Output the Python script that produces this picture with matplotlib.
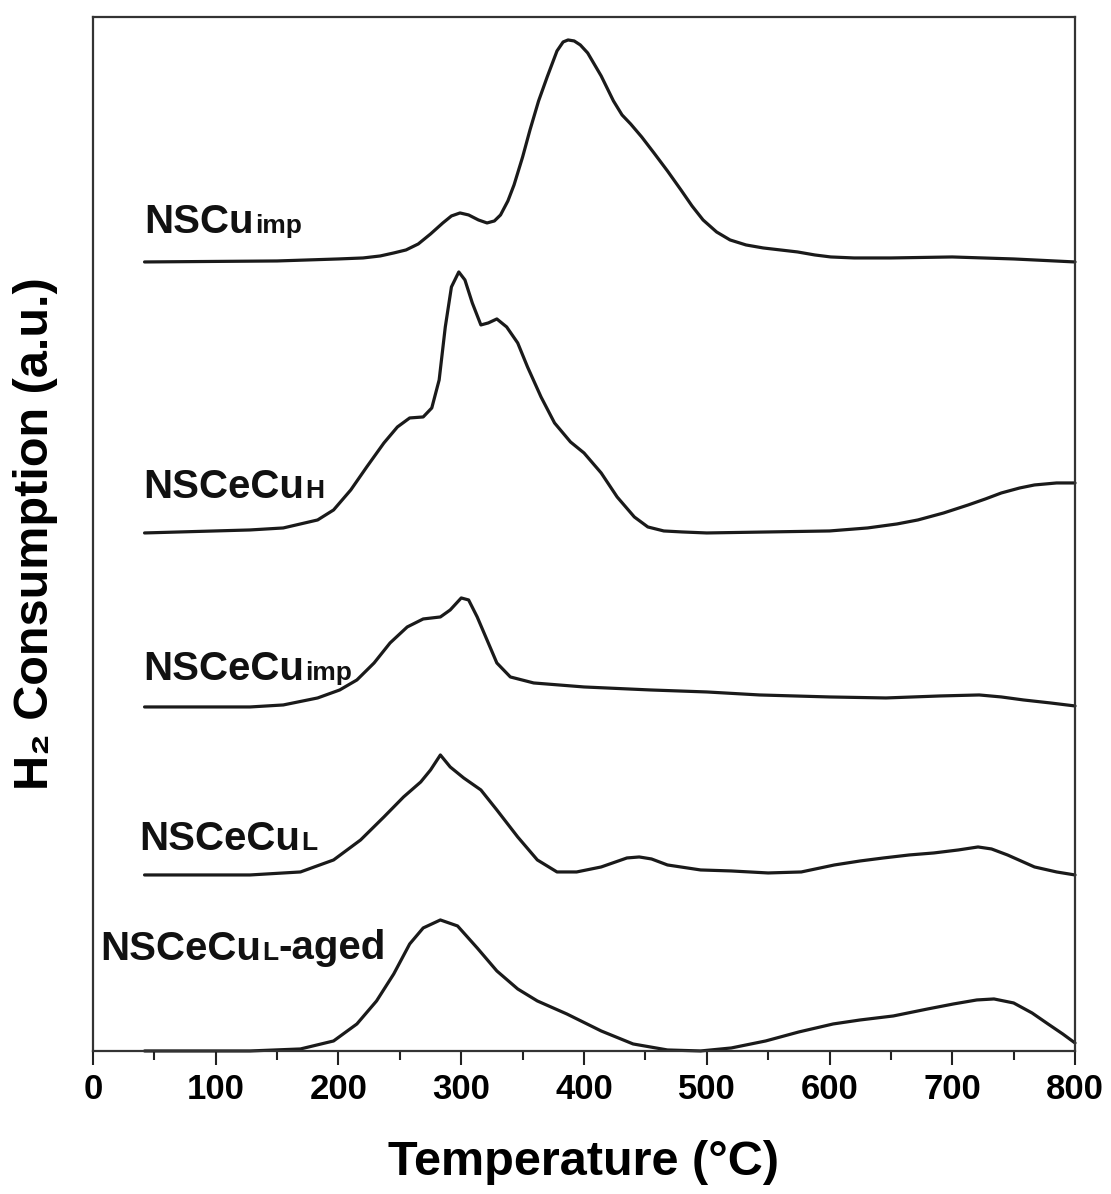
import matplotlib
matplotlib.use('Agg')
import matplotlib.pyplot as plt
from matplotlib.ticker import MultipleLocator

plt.rcParams['font.family'] = ['Liberation Sans', 'DejaVu Sans']
plt.rcParams['font.weight'] = 'bold'

# H2-TPR profiles, temperature (C) vs. signal above each trace's own baseline (a.u.)
names = ['NSCu', 'NSCeCu', 'NSCeCu', 'NSCeCu', 'NSCeCu']
subs = ['imp', 'H', 'imp', 'L', 'L']
suffix = ['', '', '', '', '-aged']
offsets = [790, 518, 344, 176, 0]

t_cu_imp = [42, 150, 200, 220, 234, 245, 255, 265, 275, 285, 292, 299, 306, 314, 321,
            327, 332, 338, 343, 350, 356, 363, 370, 378, 383, 387, 392, 397, 403, 414,
            424, 431, 438, 447, 457, 468, 479, 488, 497, 508, 519, 532, 546, 560, 574,
            588, 601, 620, 650, 700, 750, 800]
s_cu_imp = [-1, 0, 2, 3, 5, 8, 11, 17, 27, 38, 45, 48, 46, 41, 38,
            40, 46, 60, 76, 104, 131, 160, 184, 210, 219, 221, 220, 216, 208, 185,
            160, 146, 137, 124, 108, 90, 71, 55, 41, 29, 21, 16, 13, 11, 9,
            6, 4, 3, 3, 4, 2, -1]

t_ce_h = [42, 128, 155, 183, 196, 210, 223, 237, 248, 258, 269, 276, 282, 287, 292,
          298, 303, 309, 316, 322, 329, 337, 346, 354, 365, 376, 389, 400, 414, 427,
          441, 452, 465, 480, 500, 550, 600, 631, 655, 672, 693, 713, 727, 740, 755,
          767, 785, 800]
s_ce_h = [0, 3, 5, 13, 23, 43, 66, 90, 106, 115, 116, 125, 153, 206, 246,
          261, 253, 230, 208, 210, 214, 206, 190, 166, 136, 110, 91, 80, 60, 36,
          16, 6, 2, 1, 0, 1, 2, 5, 9, 13, 20, 28, 34, 40, 45,
          48, 50, 50]

t_ce_imp = [42, 128, 155, 183, 201, 215, 229, 242, 256, 269, 283, 291, 300, 306, 313,
            321, 329, 340, 359, 400, 454, 500, 543, 600, 646, 690, 722, 740, 758, 780,
            800]
s_ce_imp = [0, 0, 2, 9, 17, 27, 44, 64, 80, 88, 90, 97, 109, 107, 90,
            67, 44, 30, 24, 20, 17, 15, 12, 10, 9, 11, 12, 10, 7, 4,
            1]

t_ce_l = [42, 128, 169, 196, 218, 237, 253, 267, 275, 283, 291, 302, 316, 329, 346,
          362, 378, 394, 414, 435, 445, 455, 468, 495, 520, 550, 577, 604, 625, 644,
          665, 685, 705, 721, 732, 745, 767, 785, 800]
s_ce_l = [0, 0, 3, 15, 35, 58, 78, 93, 105, 120, 108, 97, 85, 65, 38,
          15, 3, 3, 8, 17, 18, 16, 10, 5, 4, 2, 3, 10, 14, 17,
          20, 22, 25, 28, 26, 20, 8, 3, 0]

t_ce_aged = [42, 128, 169, 196, 215, 231, 245, 258, 269, 283, 297, 313, 329, 346, 362,
             386, 414, 440, 468, 495, 520, 548, 575, 603, 625, 652, 680, 701, 720, 734,
             750, 765, 778, 790, 800]
s_ce_aged = [0, 0, 2, 10, 27, 50, 77, 107, 123, 131, 125, 103, 80, 62, 50,
             37, 20, 7, 1, 0, 3, 10, 19, 27, 31, 35, 42, 47, 51, 52,
             48, 38, 27, 17, 8]

temps = [t_cu_imp, t_ce_h, t_ce_imp, t_ce_l, t_ce_aged]
signals = [s_cu_imp, s_ce_h, s_ce_imp, s_ce_l, s_ce_aged]

# label anchors (temperature, height in a.u.)
label_x = [42, 41, 41, 38, 6]
label_y = [818, 553, 371, 201, 91]

fig = plt.figure(figsize=(11.11, 11.94), dpi=100)
ax = fig.add_axes([0.0837, 0.1198, 0.8839, 0.8660])

for t, s, off in zip(temps, signals, offsets):
    ax.plot(t, [v + off for v in s], color='#1a1a1a', lw=2.3, clip_on=False,
            solid_capstyle='round', solid_joinstyle='round')

for i in range(len(names)):
    txt = ax.text(label_x[i], label_y[i], names[i], fontsize=29, fontweight='bold',
                  ha='left', va='baseline', color='#111111')
    sub = ax.annotate(subs[i], xy=(1, 0), xycoords=txt, xytext=(0.5, 6),
                      textcoords='offset points', fontsize=19, fontweight='bold',
                      ha='left', va='baseline', color='#111111')
    if suffix[i]:
        ax.annotate(suffix[i], xy=(1, 0), xycoords=sub, xytext=(0, 4),
                    textcoords='offset points', fontsize=29, fontweight='bold',
                    ha='left', va='baseline', color='#111111')

ax.set_xlim(0, 800)
ax.set_ylim(0, 1034)
ax.xaxis.set_major_locator(MultipleLocator(100))
ax.xaxis.set_minor_locator(MultipleLocator(50))
ax.set_yticks([])

ax.tick_params(axis='x', which='major', direction='out', length=10, width=1.5,
               color='#222222', pad=6, top=False)
ax.tick_params(axis='x', which='minor', direction='out', length=6.5, width=1.5,
               color='#222222', top=False)
for lab in ax.get_xticklabels():
    lab.set_family(['Liberation Sans Narrow', 'Liberation Sans'])
    lab.set_fontweight('bold')
    lab.set_fontsize(25)

for sp in ax.spines.values():
    sp.set_linewidth(1.6)
    sp.set_color('#333333')

ax.set_xlabel('Temperature (\u00b0C)', fontsize=35, fontweight='bold', labelpad=24)
ax.set_ylabel('H\u2082 Consumption (a.u.)', fontsize=35, fontweight='bold')
ax.yaxis.set_label_coords(-0.036, 0.5)

fig.savefig('out.png', dpi=100)
